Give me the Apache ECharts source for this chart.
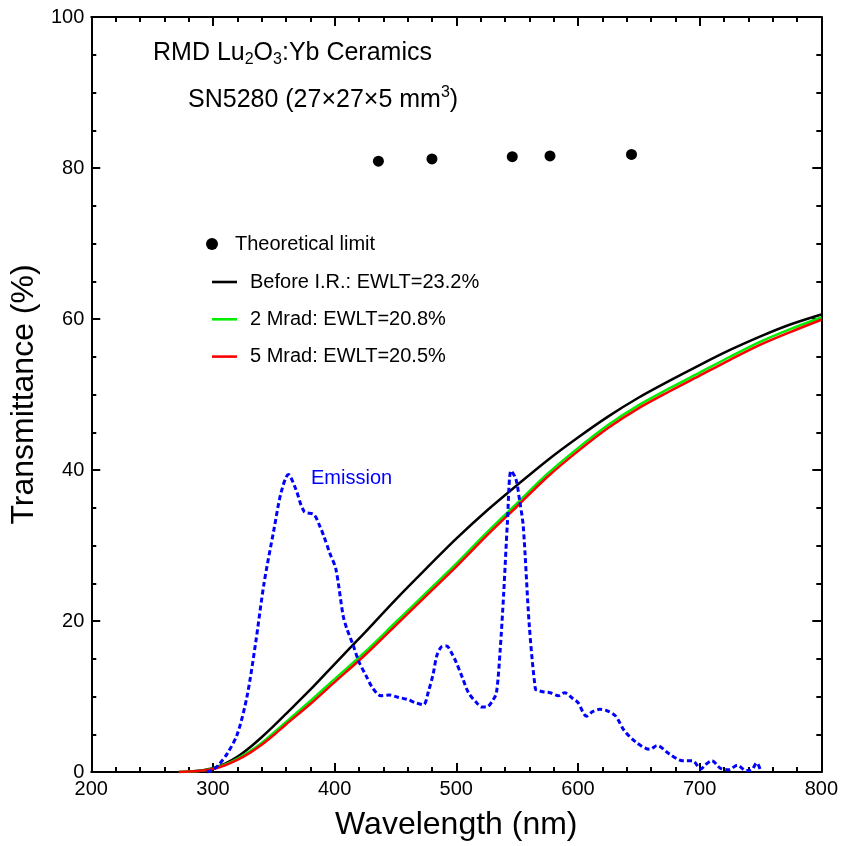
<!DOCTYPE html>
<html><head><meta charset="utf-8">
<script src="https://cdn.jsdelivr.net/npm/echarts@6/dist/echarts.min.js"></script>
<style>html,body{margin:0;padding:0;background:#fff}#c{width:841px;height:846px}</style>
</head><body><div id="c"></div>
<script>
// Theoretical limit
const limWl  = [436, 480, 546, 577, 644];
const limVal = [80.9, 81.2, 81.5, 81.6, 81.8];

// Transmittance curves
const tWl     = [272, 280, 290, 300, 310, 320, 330, 340, 350, 360, 380, 400, 425, 450, 475, 500, 525, 550, 575, 600, 625, 650, 675, 700, 725, 750, 775, 800];
const before  = [0, 0.05, 0.2, 0.5, 1.1, 2.0, 3.2, 4.6, 6.1, 7.7, 10.9, 14.3, 18.5, 22.8, 26.9, 30.9, 34.6, 38.0, 41.3, 44.3, 47.1, 49.6, 51.8, 53.9, 55.9, 57.7, 59.3, 60.6];
const mrad2   = [0, 0.05, 0.17, 0.45, 1.0, 1.75, 2.7, 3.85, 5.2, 6.6, 9.4, 12.3, 15.9, 19.8, 23.7, 27.6, 31.7, 35.6, 39.5, 42.9, 46.0, 48.6, 50.8, 52.9, 55.0, 57.0, 58.7, 60.2];
const mrad5   = [0, 0.05, 0.15, 0.4, 0.9, 1.6, 2.5, 3.6, 4.9, 6.3, 9.0, 11.9, 15.5, 19.4, 23.3, 27.2, 31.3, 35.2, 39.1, 42.5, 45.6, 48.2, 50.4, 52.5, 54.6, 56.6, 58.3, 59.9];

// Emission spectrum (arb.)
const emWl  = [295,300,305,312,320,328,335,342,350,356,362,368,375,383,388,391,396,401,407,410,415,420,426,431,438,445,452,460,466,473,477,481,484,488,492,496,500,505,510,516,521,525,530,533,536,539,542,545,549,552,555,560,565,567,572,577,584,589,596,600,607,612,618,624,631,638,648,659,665,675,686,694,701,705,710,717,724,731,738,742,747,750];
const emVal = [0,0.3,1.0,2.5,5,10,17,25,32,37,39.4,37.5,34.5,34.1,32.5,31.3,29,26.9,20.7,19,16.9,14.6,12.7,11.2,10.1,10.2,9.9,9.6,9.2,8.9,10.6,13,15.4,16.6,16.7,15.8,14.5,12.5,10.5,9.3,8.6,8.6,9.5,10.5,16,23.8,33,39.9,38.8,36,32.6,19.4,11,10.8,10.6,10.5,10.1,10.5,9.7,9.2,7.4,8.0,8.3,8.1,7.4,5.5,3.9,3.0,3.5,2.4,1.5,1.5,0.4,1.0,1.5,0.5,0.3,0.9,0.2,0.2,1.2,0.2];

const xTicks = [200, 300, 400, 500, 600, 700, 800];
const yTicks = [0, 20, 40, 60, 80, 100];

const FONT = 'Liberation Sans, Arial, Helvetica, sans-serif';
const zip = (a, b) => a.map((v, i) => [v, b[i]]);
const LINE_ICON = 'path://M0,0H25V2.6H0Z';

const chart = echarts.init(document.getElementById('c'), null, {renderer: 'canvas'});
const axCommon = {
  type: 'value',
  axisLine: {show: true, onZero: false, lineStyle: {color: '#000', width: 2}},
  axisTick: {show: true, inside: true, length: 9, lineStyle: {color: '#000', width: 2}},
  minorTick: {show: true, length: 5, lineStyle: {color: '#000', width: 2}},
  splitLine: {show: false},
};
const rn = {fontFamily: FONT, fontSize: 25, fontWeight: 'normal', color: '#000', lineHeight: 30, verticalAlign: 'middle'};
const rs = {fontFamily: FONT, fontSize: 16, fontWeight: 'normal', color: '#000', lineHeight: 15};
const option = {
  animation: false,
  backgroundColor: '#fff',
  grid: {left: 89, right: 18, top: 17, bottom: 73, containLabel: false},
  title: [
    {text: '{n|RMD Lu}{s|2}{n|O}{s|3}{n|:Yb Ceramics}', left: 153, top: 38, padding: 0,
     textStyle: {fontWeight: 'normal', rich: {n: rn, s: Object.assign({}, rs, {verticalAlign: 'bottom'})}}},
    {text: '{n|SN5280 (27×27×5 mm}{p|3}{n|)}', left: 188, top: 85, padding: 0,
     textStyle: {fontWeight: 'normal', rich: {n: rn, p: Object.assign({}, rs, {verticalAlign: 'top'})}}},
    {text: 'Emission', left: 311, top: 468, padding: 0,
     textStyle: {fontFamily: FONT, fontSize: 20, fontWeight: 'normal', color: '#0000ff'}}
  ],
  legend: [
    {data: [{name: 'Theoretical limit', icon: 'circle'}], orient: 'vertical', left: 206, top: 234, padding: 0,
     itemWidth: 12, itemHeight: 12, selectedMode: false,
     textStyle: {fontFamily: FONT, fontSize: 20, color: '#000', lineHeight: 20, padding: [0, 0, 0, 12]}},
    {data: [{name: 'Before I.R.: EWLT=23.2%', icon: LINE_ICON}, {name: '2 Mrad: EWLT=20.8%', icon: LINE_ICON},
            {name: '5 Mrad: EWLT=20.5%', icon: LINE_ICON}], orient: 'vertical',
     left: 212, top: 272, padding: 0, itemWidth: 25, itemHeight: 14, itemGap: 17.3, selectedMode: false,
     textStyle: {fontFamily: FONT, fontSize: 20, color: '#000', lineHeight: 20, padding: [0, 0, 0, 8]}}
  ],
  xAxis: [
    Object.assign({}, axCommon, {min: xTicks[0], max: xTicks[xTicks.length - 1], interval: 100, position: 'bottom',
      minorTick: Object.assign({}, axCommon.minorTick, {splitNumber: 5}),
      axisLabel: {fontFamily: FONT, fontSize: 20, color: '#000', margin: 7},
      name: 'Wavelength (nm)', nameLocation: 'middle', nameGap: 37,
      nameTextStyle: {fontFamily: FONT, fontSize: 32, color: '#000'}}),
    Object.assign({}, axCommon, {min: xTicks[0], max: xTicks[xTicks.length - 1], interval: 100, position: 'top',
      minorTick: Object.assign({}, axCommon.minorTick, {splitNumber: 5}),
      axisLabel: {show: false}})
  ],
  yAxis: [
    Object.assign({}, axCommon, {min: yTicks[0], max: yTicks[yTicks.length - 1], interval: 20, position: 'left',
      minorTick: Object.assign({}, axCommon.minorTick, {splitNumber: 4}),
      axisLabel: {fontFamily: FONT, fontSize: 20, color: '#000', margin: 7},
      name: 'Transmittance (%)', nameLocation: 'middle', nameGap: 38,
      nameTextStyle: {fontFamily: FONT, fontSize: 32, color: '#000'}}),
    Object.assign({}, axCommon, {min: yTicks[0], max: yTicks[yTicks.length - 1], interval: 20, position: 'right',
      minorTick: Object.assign({}, axCommon.minorTick, {splitNumber: 4}),
      axisLabel: {show: false}})
  ],
  series: [
    {name: 'Before I.R.: EWLT=23.2%', type: 'line', data: zip(tWl, before), smooth: 0.3, symbol: 'none',
     lineStyle: {color: '#000', width: 2.5}, itemStyle: {color: '#000'}},
    {name: '2 Mrad: EWLT=20.8%', type: 'line', data: zip(tWl, mrad2), smooth: 0.3, symbol: 'none',
     lineStyle: {color: '#00ee00', width: 2.5}, itemStyle: {color: '#00ee00'}},
    {name: '5 Mrad: EWLT=20.5%', type: 'line', data: zip(tWl, mrad5), smooth: 0.3, symbol: 'none',
     lineStyle: {color: '#ff0000', width: 2.5}, itemStyle: {color: '#ff0000'}},
    {name: 'Emission', type: 'line', data: zip(emWl, emVal), smooth: 0.3, symbol: 'none',
     lineStyle: {color: '#0000ff', width: 3, type: [5, 3]}, itemStyle: {color: '#0000ff'}},
    {name: 'Theoretical limit', type: 'scatter', data: zip(limWl, limVal), symbol: 'circle', symbolSize: 11,
     itemStyle: {color: '#000', opacity: 1}}
  ]
};
chart.setOption(option);
</script>
</body></html>
